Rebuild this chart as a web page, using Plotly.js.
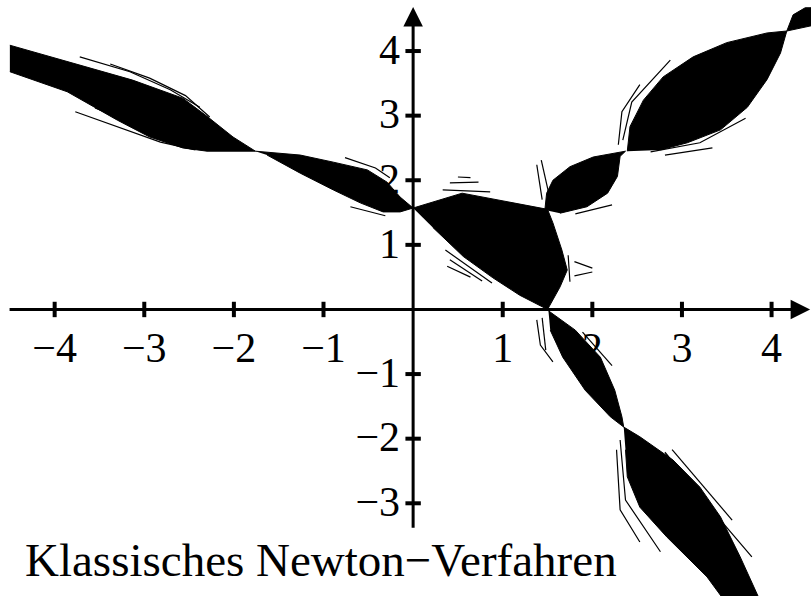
<!DOCTYPE html>
<html>
<head>
<meta charset="utf-8">
<script src="https://cdn.plot.ly/plotly-3.0.1.min.js"></script>
<style>
  html, body { margin: 0; padding: 0; background: #fff; }
  #chart { width: 811px; height: 596px; }
</style>
</head>
<body>
<div id="chart"></div>
<script>
// Basins of the classical Newton iteration, drawn as black lobes in the (x, y) plane.

// Lobe outlines (data units), each traced once around its border
const lobeWestX = [-4.50, -3.86, -3.13, -2.57, -2.30, -2.01, -1.76, -2.30, -2.57, -2.94, -3.30, -3.86, -4.50];
const lobeWestY = [4.09, 3.84, 3.55, 3.27, 2.99, 2.67, 2.45, 2.45, 2.50, 2.67, 2.93, 3.37, 3.68];

const lobeAxisX = [-1.76, -1.26, -0.89, -0.51, -0.29, -0.145, 0.0, -0.145, -0.335, -0.59, -0.89, -1.26, -1.63];
const lobeAxisY = [2.45, 2.39, 2.28, 2.16, 1.97, 1.74, 1.57, 1.51, 1.51, 1.65, 1.85, 2.11, 2.39];

const lobeCentreX = [0.0, 0.547, 1.50, 1.56, 1.66, 1.72, 1.64, 1.50, 1.19, 0.89, 0.56, 0.22];
const lobeCentreY = [1.57, 1.80, 1.55, 1.34, 0.92, 0.61, 0.35, 0.0, 0.22, 0.49, 0.82, 1.27];

const lobeRiseX = [1.47, 1.49, 1.56, 1.75, 2.01, 2.37, 2.31, 2.28, 2.17, 1.94, 1.64];
const lobeRiseY = [1.54, 1.80, 2.00, 2.21, 2.36, 2.45, 2.37, 2.06, 1.80, 1.59, 1.49];

const lobeNorthEastX = [2.39, 2.42, 2.57, 2.79, 3.125, 3.50, 3.95, 4.17, 4.24, 4.375, 4.44, 4.44, 4.17, 4.10, 3.95, 3.73, 3.43, 3.06, 2.76];
const lobeNorthEastY = [2.45, 2.83, 3.24, 3.60, 3.91, 4.13, 4.28, 4.31, 4.56, 4.67, 4.67, 4.39, 4.31, 3.97, 3.56, 3.13, 2.78, 2.58, 2.47];

const lobeFallX = [1.51, 1.81, 2.09, 2.25, 2.33, 2.35, 2.20, 1.92, 1.67, 1.53];
const lobeFallY = [-0.02, -0.32, -0.74, -1.25, -1.66, -1.82, -1.66, -1.25, -0.74, -0.32];

const lobeSouthEastX = [2.35, 2.53, 2.90, 3.20, 3.43, 3.65, 3.87, 3.47, 3.28, 2.83, 2.53, 2.39, 2.37];
const lobeSouthEastY = [-1.82, -1.97, -2.33, -2.75, -3.21, -3.83, -4.50, -4.50, -4.14, -3.52, -3.06, -2.59, -2.17];

// Thin filaments fringing the lobes
const fringeStrands = [
  [[-3.72, -3.16, -2.71, -2.38], [3.91, 3.68, 3.40, 3.13]],
  [[-3.38, -2.94, -2.54, -2.27], [3.80, 3.58, 3.31, 2.98]],
  [[-3.77, -3.27, -2.82, -2.43], [3.06, 2.81, 2.59, 2.47]],
  [[-3.55, -3.05, -2.60], [3.12, 2.84, 2.62]],
  [[-0.76, -0.42, -0.26], [2.35, 2.19, 2.04]],
  [[-0.70, -0.31], [1.59, 1.45]],
  [[0.33, 0.86], [1.85, 1.82]],
  [[0.41, 0.73], [1.96, 1.97]],
  [[0.50, 0.64], [2.05, 2.04]],
  [[0.36, 0.88], [0.92, 0.41]],
  [[0.41, 0.77], [0.77, 0.44]],
  [[0.38, 0.64], [0.67, 0.50]],
  [[1.73, 1.75], [0.84, 0.43]],
  [[1.80, 2.00], [0.74, 0.64]],
  [[1.80, 2.00], [0.52, 0.58]],
  [[1.38, 1.44], [2.24, 1.70]],
  [[1.43, 1.51], [2.31, 1.82]],
  [[1.81, 2.22], [1.48, 1.62]],
  [[2.34, 2.44, 2.87], [2.62, 3.21, 3.86]],
  [[2.29, 2.33, 2.53], [2.55, 3.06, 3.48]],
  [[2.65, 3.20, 3.71], [2.44, 2.58, 2.96]],
  [[2.81, 3.34], [2.39, 2.50]],
  [[1.38, 1.42, 1.56], [-0.16, -0.55, -0.81]],
  [[1.44, 1.48], [-0.13, -0.63]],
  [[1.89, 2.22], [-0.35, -0.87]],
  [[2.31, 2.37, 2.76], [-2.02, -2.95, -3.75]],
  [[2.27, 2.31, 2.53], [-2.17, -3.10, -3.60]],
  [[2.81, 3.43, 3.78], [-2.21, -3.26, -3.83]],
  [[2.89, 3.56], [-2.17, -3.26]]
];

// Axis ticks and labels
const xTickVals = [-4, -3, -2, -1, 1, 2, 3, 4];
const xTickText = ['\u22124', '\u22123', '\u22122', '\u22121', '1', '2', '3', '4'];
const yTickVals = [-3, -2, -1, 1, 2, 3, 4];
const yTickText = ['\u22123', '\u22122', '\u22121', '1', '2', '3', '4'];

const chartTitle = 'Klassisches Newton\u2212Verfahren';

const INK = '#000000';
const SERIF = '"Liberation Serif", "DejaVu Serif", serif';

const lobes = [
  [lobeWestX, lobeWestY],
  [lobeAxisX, lobeAxisY],
  [lobeCentreX, lobeCentreY],
  [lobeRiseX, lobeRiseY],
  [lobeNorthEastX, lobeNorthEastY],
  [lobeFallX, lobeFallY],
  [lobeSouthEastX, lobeSouthEastY]
];

const traces = [];
lobes.forEach(([xs, ys]) => {
  traces.push({
    type: 'scatter', mode: 'lines', x: xs, y: ys,
    fill: 'toself', fillcolor: INK,
    line: { color: INK, width: 1 },
    hoverinfo: 'skip'
  });
});
fringeStrands.forEach(([xs, ys]) => {
  traces.push({
    type: 'scatter', mode: 'lines', x: xs, y: ys,
    line: { color: INK, width: 1.2 },
    hoverinfo: 'skip'
  });
});

// Tick marks crossing both axes
traces.push({
  type: 'scatter', mode: 'markers',
  x: xTickVals, y: xTickVals.map(() => 0),
  marker: { symbol: 'line-ns', size: 11, color: INK, line: { color: INK, width: 4 } },
  hoverinfo: 'skip'
});
traces.push({
  type: 'scatter', mode: 'markers',
  x: yTickVals.map(() => 0), y: yTickVals,
  marker: { symbol: 'line-ew', size: 11, color: INK, line: { color: INK, width: 4 } },
  hoverinfo: 'skip'
});

const xRange = [-4.61, 4.44];
const yRange = [-4.435, 4.79];

const layout = {
  width: 811,
  height: 596,
  margin: { l: 0, r: 0, t: 0, b: 0 },
  paper_bgcolor: '#ffffff',
  plot_bgcolor: '#ffffff',
  showlegend: false,
  xaxis: {
    range: xRange,
    anchor: 'free',
    position: (0 - yRange[0]) / (yRange[1] - yRange[0]),
    showgrid: false, zeroline: false, showline: false,
    tickmode: 'array', tickvals: xTickVals, ticktext: xTickText,
    ticks: '', ticklabelstandoff: 10,
    tickfont: { family: SERIF, size: 42, color: INK },
    fixedrange: true
  },
  yaxis: {
    range: yRange,
    anchor: 'free',
    position: (0 - xRange[0]) / (xRange[1] - xRange[0]),
    showgrid: false, zeroline: false, showline: false,
    tickmode: 'array', tickvals: yTickVals, ticktext: yTickText,
    ticks: '', ticklabelstandoff: 13, ticklabelshift: -2,
    tickfont: { family: SERIF, size: 42, color: INK },
    fixedrange: true
  },
  annotations: [
    {
      // horizontal axis with arrow
      x: 4.43, y: 0, ax: -4.52, ay: 0,
      xref: 'x', yref: 'y', axref: 'x', ayref: 'y',
      text: '', showarrow: true,
      arrowhead: 2, arrowsize: 1.3, arrowwidth: 3, arrowcolor: INK
    },
    {
      // vertical axis with arrow
      x: 0, y: 4.68, ax: 0, ay: -3.40,
      xref: 'x', yref: 'y', axref: 'x', ayref: 'y',
      text: '', showarrow: true,
      arrowhead: 2, arrowsize: 1.3, arrowwidth: 3, arrowcolor: INK
    },
    {
      x: 0.028, y: 0.061, xref: 'paper', yref: 'paper',
      xanchor: 'left', yanchor: 'middle',
      text: chartTitle, showarrow: false,
      font: { family: SERIF, size: 47, color: INK }
    }
  ]
};

Plotly.newPlot('chart', traces, layout, { staticPlot: true, displayModeBar: false });
</script>
</body>
</html>
